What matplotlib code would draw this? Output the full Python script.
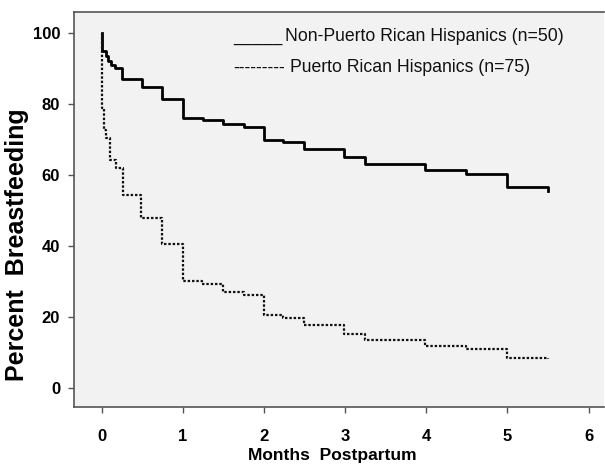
import matplotlib
matplotlib.use("Agg")
import matplotlib.pyplot as plt

# Kaplan-Meier style step curves
months_non_pr = [0, 0.01, 0.05, 0.08, 0.12, 0.17, 0.25, 0.5, 0.75, 1.0, 1.25, 1.5, 1.75,
                 2.0, 2.24, 2.49, 2.99, 3.25, 3.99, 4.49, 4.99, 5.5]
pct_non_pr = [100, 95, 93.5, 92, 91, 90, 87, 84.7, 81.4, 76, 75.4, 74.3, 73.6,
              69.8, 69.2, 67.4, 65, 63.2, 61.3, 60.2, 56.7, 55.6]

months_pr = [0, 0.01, 0.03, 0.06, 0.11, 0.18, 0.26, 0.49, 0.74, 1.0, 1.24, 1.5, 1.75,
             2.0, 2.24, 2.49, 2.99, 3.24, 3.99, 4.49, 4.99, 5.5]
pct_pr = [100, 78.8, 72.7, 70.4, 64.2, 62, 54.3, 47.8, 40.5, 30.1, 29.2, 27.1, 26.2,
          20.6, 19.7, 17.6, 15.2, 13.4, 11.8, 10.9, 8.5, 8.3]

label_non_pr = "Non-Puerto Rican Hispanics (n=50)"
label_pr = "Puerto Rican Hispanics (n=75)"
xticks = [0, 1, 2, 3, 4, 5, 6]
yticks = [0, 20, 40, 60, 80, 100]

plt.rcParams['font.family'] = ['Liberation Sans', 'DejaVu Sans']

fig = plt.figure(figsize=(6.05, 4.66), dpi=100)
ax = fig.add_axes([0.1223, 0.1266, 0.876, 0.848])
ax.set_facecolor('#f2f2f2')

ax.plot(months_non_pr, pct_non_pr, drawstyle='steps-post', color='black', lw=2.0)
ax.plot(months_pr, pct_pr, drawstyle='steps-post', color='#111111', lw=1.6,
        linestyle=(0, (1.1, 0.85)))

ax.set_xlim(-0.339, 6.19)
ax.set_ylim(-5.35, 105.9)
ax.set_xticks(xticks)
ax.set_yticks(yticks)
ax.tick_params(length=4, color='#555555', width=1, labelsize=12, pad=6)
ax.tick_params(axis='x', pad=12)
for lab in ax.get_xticklabels() + ax.get_yticklabels():
    lab.set_fontweight('bold')

for side in ['left', 'bottom', 'top']:
    ax.spines[side].set_color('#555555')
    ax.spines[side].set_linewidth(1.2)
ax.spines['right'].set_visible(False)

ax.set_xlabel("Months  Postpartum", fontsize=12.5, fontweight='bold')
ax.xaxis.set_label_coords(0.488, -0.103)
ax.set_ylabel("Percent  Breastfeeding", fontsize=18, fontweight='bold')
ax.yaxis.set_label_coords(-0.085, 0.41)

# legend drawn as text, like the original
ax.text(0.300, 0.937, "_____", transform=ax.transAxes, fontsize=12.7,
        color='#111111', va='center')
ax.text(0.398, 0.937, label_non_pr, transform=ax.transAxes, fontsize=12.7,
        color='#111111', va='center')
ax.text(0.300, 0.858, "---------", transform=ax.transAxes, fontsize=12.7,
        color='#111111', va='center')
ax.text(0.4075, 0.858, label_pr, transform=ax.transAxes, fontsize=12.7,
        color='#111111', va='center')

fig.savefig("out.png", dpi=100, facecolor='white')
